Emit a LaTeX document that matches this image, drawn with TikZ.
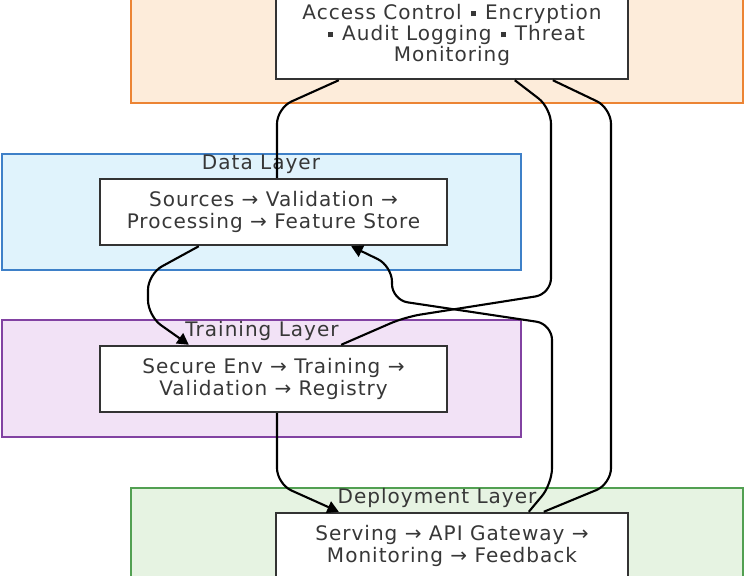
\documentclass[tikz,border=0pt]{standalone}
\usepackage{fontspec}
\setmainfont[LetterSpace=5]{DejaVu Sans}
\usetikzlibrary{arrows.meta,calc}

\definecolor{secfill}{RGB}{253,236,218}
\definecolor{secline}{RGB}{236,132,52}
\definecolor{datfill}{RGB}{224,243,252}
\definecolor{datline}{RGB}{62,128,200}
\definecolor{trnfill}{RGB}{242,226,246}
\definecolor{trnline}{RGB}{130,66,162}
\definecolor{depfill}{RGB}{230,243,226}
\definecolor{depline}{RGB}{82,160,82}
\definecolor{boxline}{RGB}{51,51,51}
\definecolor{textgray}{RGB}{55,55,55}

\newcommand{\sqdot}{\hspace{0.45em}\raisebox{0.28ex}{\rule{0.26em}{0.26em}}\hspace{0.45em}}

\tikzset{
  txt/.style={text=textgray, font=\fontsize{11.4}{12}\selectfont},
  stage/.style={txt, draw=boxline, fill=white, line width=1.4pt, inner sep=0pt,
    align=center, minimum width=6.94cm, minimum height=1.32cm},
  widestage/.style={stage, minimum width=7.04cm},
  link/.style={black, line width=1.2pt, rounded corners=9pt},
  flow/.style={link, -{Triangle[length=6.5pt,width=7pt]}}
}

\begin{document}
\begin{tikzpicture}[x=0.02cm,y=-0.02cm]
\useasboundingbox (0,0) rectangle (750,575);

% security layer
\fill[secfill] (131,-10) rectangle (743,103);
\draw[secline, line width=1.2pt] (131,-10) rectangle (743,103);
\node (sec) at (452,35) [widestage, minimum height=1.76cm] {Access Control\sqdot Encryption\\\sqdot Audit Logging\sqdot Threat\\Monitoring};

% data layer
\fill[datfill] (2,154) rectangle (521,270);
\draw[datline, line width=1.2pt] (2,154) rectangle (521,270);
\node (datlbl) at (261,164) [txt] {Data Layer};
\node (dat) at (273.5,212) [stage] {Sources → Validation →\\Processing → Feature Store};

% training layer
\fill[trnfill] (2,320) rectangle (521,437);
\draw[trnline, line width=1.2pt] (2,320) rectangle (521,437);
\node (trnlbl) at (262,331) [txt] {Training Layer};
\node (trn) at (273.5,379) [stage] {Secure Env → Training →\\Validation → Registry};

% deployment layer
\fill[depfill] (131,488) rectangle (743,600);
\draw[depline, line width=1.2pt] (131,488) rectangle (743,600);
\node (deplbl) at (437,498) [txt] {Deployment Layer};
\node (dep) at (452,546) [widestage] {Serving → API Gateway →\\Monitoring → Feedback};

% security links
\draw[link] ($(sec.south west)+(64,0)$) -- (277,108) -- ($(dat.north)+(3.5,0)$);
\draw[link] ($(sec.south west)+(240,0)$) -- (551,108) -- (551,294) -- (405,317)
  -- ($(trn.north east)+(-107,0)$);
\draw[link] ($(sec.south west)+(278,0)$) -- (611,108) -- (611,484)
  -- ($(dep.north west)+(269,0)$);

% pipeline
\draw[flow] ($(dat.south west)+(100,0)$) -- (148,274) -- (148,316)
  -- ($(trn.north west)+(90,0)$);
\draw[flow] ($(trn.south)+(3.5,0)$) -- (277,484) -- ($(dep.north west)+(64,0)$);
\draw[flow] ($(dep.north west)+(254,0)$) -- (552,484) -- (552,324) -- (392,300)
  -- (392,266) -- ($(dat.south east)+(-97,0)$);

\end{tikzpicture}
\end{document}
